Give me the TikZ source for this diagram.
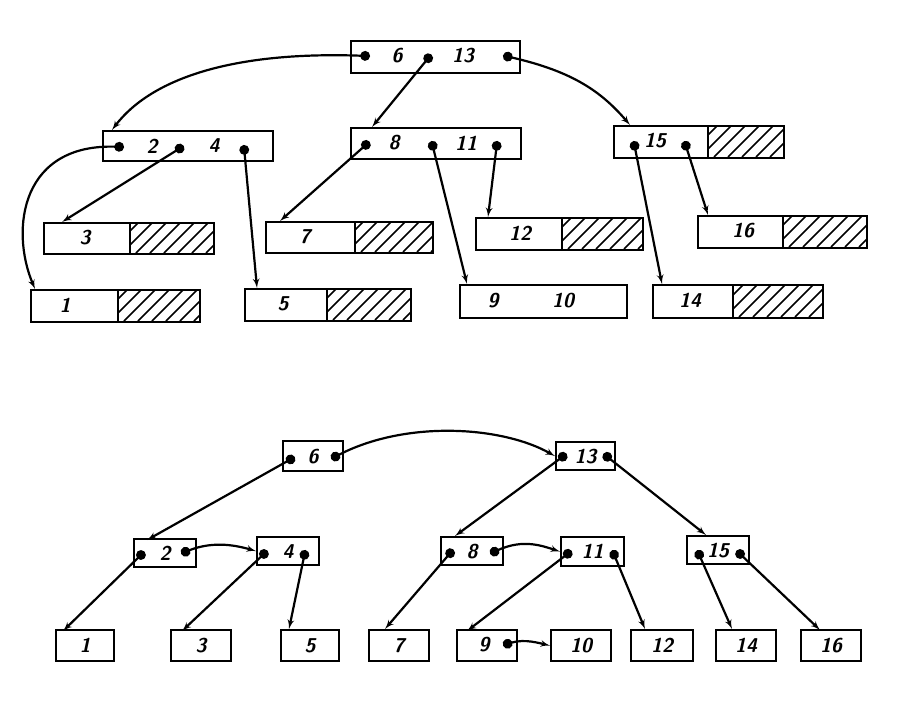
\documentclass[tikz,border=0pt]{standalone}
\usepackage{tikz}
\usetikzlibrary{arrows}

\tikzset{
    box/.style = {draw, line width = 2.2pt, inner sep = 0, anchor = north west},
    num/.style = {font = \sffamily\bfseries\itshape\fontsize{20}{22}\selectfont},
    ptr/.style = {*-latex', line width = 2.2pt, shorten <= -2pt},
    hline/.style = {line width = 1.6pt}
}

% box with a number and a hatched free half
\newcommand{\halfleaf}[7]{%
    \node[box, minimum width = #3 - #2, minimum height = #5 - #4] (#1) at (#2, #4) {};
    \begin{scope}
        \clip (#6, #4) rectangle (#3, #5);
        \foreach \i in {-36, -22, ..., 100}
            \draw[hline] (#6 + \i, #5) -- ++(#5 - #4, #4 - #5);
    \end{scope}
    \draw[line width = 2.2pt] (#6, #4) -- (#6, #5);
    \node[num] at (#7, #4/2 + #5/2) {#1};
}
% small box of the lower tree
\newcommand{\smallbox}[5]{%
    \node[box, minimum width = #3 - #2, minimum height = #5 - #4, num] (b#1) at (#2, #4) {#1};
}

\begin{document}
\begin{tikzpicture}[x = 1pt, y = -1pt]
    \useasboundingbox (0, 0) rectangle (901, 725);

    %% upper tree
    \node[box, minimum width = 169, minimum height = 32] (root) at (350, 40) {};
    \node[num] at (397, 56) {6};
    \node[num] at (463, 56) {13};
    \node[box, minimum width = 170, minimum height = 30] (n24) at (102, 130) {};
    \node[num] at (152, 146) {2};
    \node[num] at (214, 146) {4};
    \node[box, minimum width = 170, minimum height = 31] (n811) at (350, 127) {};
    \node[num] at (394, 143) {8};
    \node[num] at (466, 143) {11};
    \halfleaf{15}{613}{783}{125}{157}{708}{655}
    \halfleaf{3}{43}{213}{222}{253}{130}{85}
    \halfleaf{7}{265}{432}{221}{252}{355}{305}
    \halfleaf{12}{475}{642}{217}{249}{562}{520}
    \halfleaf{16}{697}{866}{215}{247}{783}{743}
    \halfleaf{1}{30}{199}{289}{321}{118}{65}
    \halfleaf{5}{244}{410}{288}{320}{327}{283}
    \halfleaf{14}{652}{822}{284}{317}{733}{690}
    \node[box, minimum width = 167, minimum height = 33] (n910) at (459, 284) {};
    \node[num] at (493, 301) {9};
    \node[num] at (563, 301) {10};

    \draw[ptr] (368, 56) .. controls (230, 50) and (150, 80) .. (112, 130);
    \draw[ptr] (430, 56) -- (372, 127);
    \draw[ptr] (505, 56) .. controls (570, 70) and (600, 90) .. (630, 125);
    \draw[ptr] (122, 147) .. controls (20, 140) and (10, 230) .. (35, 289);
    \draw[ptr] (182, 147) -- (62, 222);
    \draw[ptr] (244, 147) -- (257, 288);
    \draw[ptr] (368, 143) -- (280, 221);
    \draw[ptr] (432, 143) -- (467, 284);
    \draw[ptr] (497, 143) -- (488, 217);
    \draw[ptr] (634, 143) -- (662, 284);
    \draw[ptr] (685, 143) -- (708, 215);

    %% lower tree
    \smallbox{6}{282}{342}{440}{470}
    \smallbox{13}{555}{614}{441}{469}
    \smallbox{2}{133}{195}{538}{566}
    \smallbox{4}{256}{318}{536}{564}
    \smallbox{8}{440}{502}{536}{564}
    \smallbox{11}{560}{623}{536}{565}
    \smallbox{15}{686}{748}{535}{563}
    \foreach \n/\xa/\xb in {1/55/113, 3/170/230, 5/280/338, 7/368/428,
        10/550/610, 12/630/692, 14/715/775, 16/800/860}
        {\smallbox{\n}{\xa}{\xb}{629}{660}}
    \node[box, minimum width = 60, minimum height = 31] (b9) at (456, 629) {};
    \node[num] at (484, 645) {9};

    \draw[ptr] (333, 458) .. controls (400, 420) and (500, 425) .. (b13.west);
    \draw[ptr] (293, 458) -- (147, 540);
    \draw[ptr] (565, 455) -- (455, 536);
    \draw[ptr] (605, 455) -- (706, 535);
    \draw[ptr] (183, 553) .. controls (210, 540) and (235, 545) .. (b4.west);
    \draw[ptr] (143, 553) -- (63, 631);
    \draw[ptr] (266, 552) -- (182, 631);
    \draw[ptr] (305, 552) -- (289, 629);
    \draw[ptr] (492, 553) .. controls (520, 538) and (540, 545) .. (b11.west);
    \draw[ptr] (452, 551) -- (385, 629);
    \draw[ptr] (570, 552) -- (467, 631);
    \draw[ptr] (613, 552) -- (645, 629);
    \draw[ptr] (698, 552) -- (732, 629);
    \draw[ptr] (738, 552) -- (820, 630);
    \draw[ptr] (505, 645) .. controls (520, 638) and (535, 642) .. (b10.west);
\end{tikzpicture}
\end{document}
